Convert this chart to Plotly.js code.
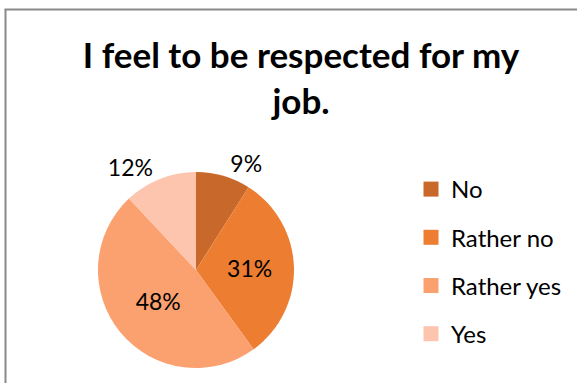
<!DOCTYPE html>
<html>
<head>
<meta charset="utf-8">
<script src="https://cdn.plot.ly/plotly-3.0.1.min.js"></script>
<style>
html,body{margin:0;padding:0;background:#fff;}
#chart{width:577px;height:383px;}
</style>
</head>
<body>
<div id="chart"></div>
<script>
var categories = ["No", "Rather no", "Rather yes", "Yes"];
var values = [9, 31, 48, 12];
var colors = ["#C8692B", "#ED7D31", "#FBA06F", "#FDC4AE"];
var textPositions = ["outside", "inside", "inside", "outside"];

var W = 577, H = 383;
var cx = 196, cy = 270, r = 98;

var traces = [{
  type: "pie",
  labels: categories,
  values: values,
  sort: false,
  direction: "clockwise",
  rotation: 0,
  marker: {colors: colors, line: {color: "#ffffff", width: 0}},
  textinfo: "percent",
  texttemplate: "%{percent:.0%}",
  textposition: textPositions,
  insidetextorientation: "horizontal",
  textfont: {family: "Lato", size: 23, color: "#000000"},
  showlegend: false,
  hoverinfo: "label+percent",
  domain: {x: [(cx - r) / W, (cx + r) / W], y: [(H - cy - r) / H, (H - cy + r) / H]}
}];

categories.forEach(function (c, i) {
  traces.push({
    type: "scatter",
    mode: "markers",
    x: [null], y: [null],
    name: c,
    legendgroup: "g" + i,
    marker: {symbol: "square", size: 15, color: colors[i]},
    hoverinfo: "skip",
    showlegend: true
  });
});

var layout = {
  width: W, height: H,
  margin: {l: 0, r: 0, t: 0, b: 0},
  paper_bgcolor: "#ffffff",
  plot_bgcolor: "rgba(0,0,0,0)",
  font: {family: "Lato", color: "#000000"},
  title: {
    text: "<b>I feel to be respected for my<br>job.</b>",
    font: {family: "Lato", size: 35, color: "#000000"},
    x: 301 / W, xanchor: "center",
    y: 1 - 68 / H, yanchor: "top", yref: "container"
  },
  xaxis: {visible: false},
  yaxis: {visible: false},
  showlegend: true,
  legend: {
    x: 411 / W, xanchor: "left",
    y: 1 - 167 / H, yanchor: "top",
    font: {family: "Lato", size: 24, color: "#000000"},
    tracegroupgap: 14,
    traceorder: "grouped",
    bgcolor: "rgba(0,0,0,0)"
  },
  shapes: [
    {type: "line", xref: "paper", yref: "paper", x0: 5.5 / W, x1: 5.5 / W, y0: 0, y1: 1 - 9.5 / H, line: {color: "#898989", width: 2}},
    {type: "line", xref: "paper", yref: "paper", x0: 4.5 / W, x1: 1, y0: 1 - 9.5 / H, y1: 1 - 9.5 / H, line: {color: "#898989", width: 2}}
  ]
};

Plotly.newPlot("chart", traces, layout, {displayModeBar: false, staticPlot: true});
</script>
</body>
</html>
